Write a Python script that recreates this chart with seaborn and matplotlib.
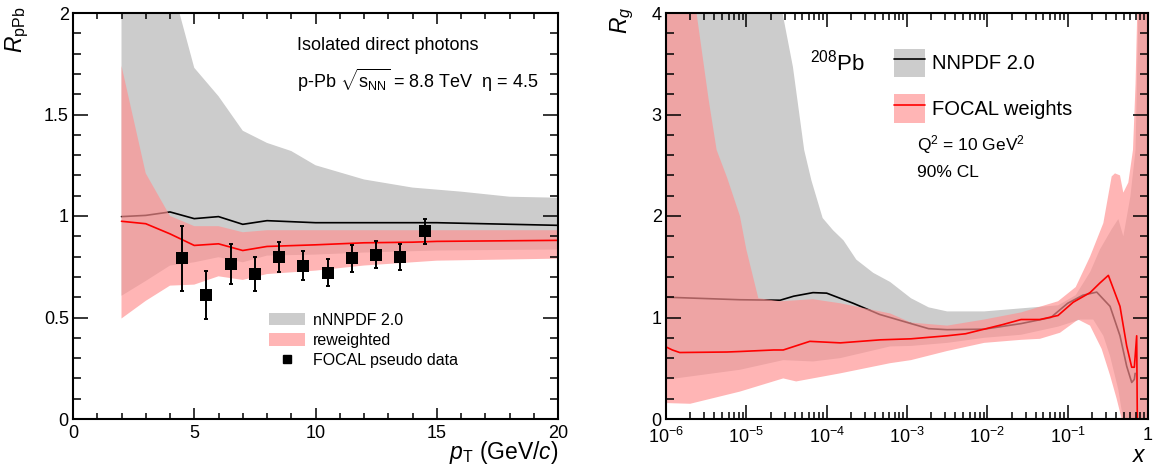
import numpy as np
import matplotlib
matplotlib.use("Agg")
import matplotlib.pyplot as plt
import seaborn as sns
from matplotlib.patches import Patch
from matplotlib.lines import Line2D
from matplotlib.ticker import (MultipleLocator, LogLocator, FixedLocator,
                               FixedFormatter, NullFormatter, FormatStrFormatter)

# ---------------- left panel data: R_pPb vs pT ----------------
pt_grey_up = [2, 3, 4, 4.39, 5, 6, 7, 8, 9, 10, 12, 14, 16, 18, 20]
r_grey_up = [4.0, 3.0, 2.3, 2.0, 1.73, 1.59, 1.42, 1.36, 1.32, 1.25, 1.18, 1.14, 1.12, 1.095, 1.09]
pt_grey_lo = [2, 3, 4, 5, 6, 7, 8, 10, 12, 15, 20]
r_grey_lo = [0.607, 0.68, 0.756, 0.772, 0.797, 0.772, 0.805, 0.81, 0.82, 0.83, 0.835]
pt_pink_up = [2, 3, 4, 5, 6, 7, 8, 20]
r_pink_up = [1.74, 1.21, 1.0, 0.95, 0.95, 0.92, 0.93, 0.93]
pt_pink_lo = [2, 3, 4, 5, 6, 7, 8, 10, 12, 15, 20]
r_pink_lo = [0.495, 0.582, 0.657, 0.662, 0.703, 0.685, 0.714, 0.731, 0.756, 0.78, 0.79]
pt_line = [2, 3, 4, 5, 6, 7, 8, 10, 12, 14, 15, 20]
r_nnpdf = [0.997, 1.003, 1.02, 0.987, 0.997, 0.959, 0.977, 0.967, 0.967, 0.967, 0.967, 0.954]
r_reweighted = [0.974, 0.962, 0.912, 0.855, 0.863, 0.83, 0.85, 0.858, 0.868, 0.871, 0.875, 0.88]
pt_data = [4.5, 5.5, 6.5, 7.5, 8.5, 9.5, 10.5, 11.5, 12.5, 13.5, 14.5]
r_data = [0.792, 0.611, 0.764, 0.715, 0.797, 0.756, 0.72, 0.792, 0.81, 0.797, 0.924]
r_err = [0.159, 0.118, 0.097, 0.083, 0.075, 0.07, 0.067, 0.066, 0.066, 0.065, 0.063]
pt_ticks = [0, 5, 10, 15, 20]

# ---------------- right panel data: R_g vs x ----------------
x_grey_up = [1.0e-6, 2.51e-5, 2.82e-5, 3.80e-5, 5.25e-5, 6.46e-5, 8.91e-5, 1.20e-4, 1.62e-4,
             2.34e-4, 3.80e-4, 6.17e-4, 1.12e-3, 1.86e-3, 3.16e-3, 9.12e-3, 2.63e-2, 7.59e-2,
             0.126, 0.191, 0.252, 0.353, 0.427, 0.493, 0.603, 0.700, 0.780, 1.0]
rg_grey_up = [5.0, 4.3, 4.0, 3.47, 2.65, 2.35, 1.98, 1.86, 1.76,
              1.57, 1.44, 1.35, 1.19, 1.10, 1.06, 1.06, 1.09, 1.12,
              1.22, 1.45, 1.67, 1.87, 1.97, 1.8, 2.19, 2.65, 4.5, 5.0]
x_grey_lo = [1.0e-6, 8.32e-6, 2.88e-5, 6.76e-5, 1.48e-4, 6.17e-4, 1.12e-3, 3.16e-3, 9.12e-3,
             2.63e-2, 7.59e-2, 0.143, 0.208, 0.278, 0.337, 0.427, 0.489, 1.0]
rg_grey_lo = [0.387, 0.485, 0.58, 0.567, 0.60, 0.715, 0.72, 0.75, 0.80,
              0.83, 0.91, 0.98, 0.98, 0.82, 0.62, 0.29, 0.0, 0.0]
x_pink_up = [1.0e-6, 2.4e-6, 3.39e-6, 4.27e-6, 5.75e-6, 8.32e-6, 1.0e-5, 1.41e-5, 2.63e-5,
             6.76e-5, 1.48e-4, 6.17e-4, 1.12e-3, 3.16e-3, 9.12e-3, 2.63e-2, 7.59e-2, 0.126,
             0.190, 0.278, 0.353, 0.388, 0.448, 0.493, 0.569, 0.650, 0.700, 0.760, 1.0]
rg_pink_up = [5.0, 4.0, 3.15, 2.65, 2.38, 2.0, 1.67, 1.19, 1.16,
              1.18, 1.14, 1.04, 0.95, 0.92, 0.98, 1.05, 1.16, 1.3,
              1.6, 1.93, 2.39, 2.42, 2.4, 2.23, 2.33, 2.65, 3.3, 4.5, 5.0]
x_pink_lo = [1.0e-6, 2.0e-6, 8.32e-6, 2.88e-5, 4.17e-5, 1.48e-4, 6.17e-4, 1.12e-3, 3.16e-3,
             9.12e-3, 2.63e-2, 4.52e-2, 8.04e-2, 0.135, 0.190, 0.265, 0.337, 0.407, 0.471, 1.0]
rg_pink_lo = [0.157, 0.15, 0.27, 0.40, 0.37, 0.45, 0.55, 0.58, 0.67,
              0.75, 0.78, 0.79, 0.85, 0.98, 0.92, 0.69, 0.43, 0.2, 0.0, 0.0]
x_nnpdf = [1.0e-6, 8.32e-6, 2.63e-5, 3.89e-5, 6.76e-5, 1.0e-4, 2.14e-4, 4.57e-4, 6.17e-4,
           1.12e-3, 1.86e-3, 3.16e-3, 9.12e-3, 2.63e-2, 6.17e-2, 0.1, 0.155, 0.230, 0.337,
           0.448, 0.543, 0.627, 0.676, 0.692]
rg_nnpdf = [1.2, 1.175, 1.17, 1.21, 1.245, 1.24, 1.14, 1.03, 1.0,
            0.94, 0.89, 0.88, 0.885, 0.94, 1.0, 1.14, 1.22, 1.25, 1.11,
            0.82, 0.52, 0.36, 0.39, 0.45]
x_focal = [1.0e-6, 1.20e-6, 1.48e-6, 5.75e-6, 8.32e-6, 2.19e-5, 2.88e-5, 6.17e-5, 1.48e-4,
           4.68e-4, 1.12e-3, 3.16e-3, 5.37e-3, 9.12e-3, 1.55e-2, 2.63e-2, 4.52e-2, 7.59e-2,
           0.117, 0.190, 0.252, 0.321, 0.448, 0.543, 0.627, 0.676, 0.723, 0.736]
rg_focal = [0.71, 0.68, 0.655, 0.66, 0.665, 0.68, 0.68, 0.765, 0.75,
            0.78, 0.79, 0.82, 0.84, 0.885, 0.93, 0.98, 0.98, 1.02,
            1.15, 1.245, 1.34, 1.415, 1.11, 0.72, 0.51, 0.51, 0.82, 0.0]
x_ticks = [1e-6, 1e-5, 1e-4, 1e-3, 1e-2, 1e-1, 1.0]
x_ticklabels = [r"$10^{-6}$", r"$10^{-5}$", r"$10^{-4}$", r"$10^{-3}$",
                r"$10^{-2}$", r"$10^{-1}$", "1"]

# ---------------- style ----------------
GREY = "#cccccc"
PINK = (1.0, 0.57, 0.57)
PINK_ALPHA = 0.67

sns.set_theme(style="ticks")
plt.rcParams["font.family"] = ["Liberation Sans", "DejaVu Sans"]
plt.rcParams["mathtext.fontset"] = "custom"
plt.rcParams["mathtext.rm"] = "Liberation Sans"
plt.rcParams["mathtext.it"] = "Liberation Sans:italic"
plt.rcParams["mathtext.bf"] = "Liberation Sans:bold"
plt.rcParams["axes.linewidth"] = 1.5
plt.rcParams["axes.edgecolor"] = "black"
plt.rcParams["text.color"] = "black"
plt.rcParams["xtick.color"] = "black"
plt.rcParams["ytick.color"] = "black"

fig = plt.figure(figsize=(11.57, 4.68), dpi=100)
ax1 = fig.add_axes([73 / 1157, 49 / 468, 485 / 1157, 406 / 468])
ax2 = fig.add_axes([666 / 1157, 49 / 468, 482 / 1157, 406 / 468])
for a in (ax1, ax2):
    a.set_axisbelow(False)


def band(ax, xu, yu, xl, yl, **kw):
    xs = list(xu) + list(xl)[::-1]
    ys = list(yu) + list(yl)[::-1]
    ax.fill(xs, ys, lw=0, **kw)


# ---------------- left panel ----------------
band(ax1, pt_grey_up, r_grey_up, pt_grey_lo, r_grey_lo, color=GREY, zorder=1.0)
sns.lineplot(x=pt_line, y=r_nnpdf, ax=ax1, color="black", linewidth=1.2,
             sort=False, estimator=None, zorder=1.2)
band(ax1, pt_pink_up, r_pink_up, pt_pink_lo, r_pink_lo, color=PINK, alpha=PINK_ALPHA, zorder=1.4)
sns.lineplot(x=pt_line, y=r_reweighted, ax=ax1, color="red", linewidth=1.2,
             sort=False, estimator=None, zorder=1.6)
ax1.errorbar(pt_data, r_data, yerr=r_err, fmt="none", ecolor="black",
             elinewidth=1.4, capsize=1.5, capthick=1.4, zorder=2.0)
sns.scatterplot(x=pt_data, y=r_data, ax=ax1, marker="s", s=78, color="black",
                edgecolor="black", linewidth=0, zorder=2.2)

ax1.set_xlim(0, 20)
ax1.set_ylim(0, 2)
ax1.xaxis.set_major_locator(FixedLocator(pt_ticks))
ax1.xaxis.set_minor_locator(MultipleLocator(1))
ax1.yaxis.set_major_locator(MultipleLocator(0.5))
ax1.yaxis.set_minor_locator(MultipleLocator(0.1))
ax1.yaxis.set_major_formatter(FormatStrFormatter("%g"))
ax1.tick_params(axis="both", which="both", direction="in", top=True, right=True,
                width=1.1, labelsize=13)
ax1.tick_params(axis="x", which="major", length=8, pad=4)
ax1.tick_params(axis="x", which="minor", length=4)
ax1.tick_params(axis="y", which="major", length=11, pad=3)
ax1.tick_params(axis="y", which="minor", length=5.5)
ax1.set_xlabel("")
ax1.set_ylabel("")

ax1.text(-0.115, 1.015, r"$R_{\mathrm{pPb}}$", transform=ax1.transAxes, rotation=90,
         ha="center", va="top", fontsize=16.5)
ax1.text(1.0, -0.082, r"$p_{\mathrm{T}}$ (GeV/$c$)", transform=ax1.transAxes,
         ha="right", va="center", fontsize=16.5)
ax1.text(0.462, 0.921, "Isolated direct photons", transform=ax1.transAxes,
         ha="left", va="center", fontsize=13)
ax1.text(0.462, 0.833, r"p-Pb $\sqrt{\mathrm{s}_{\mathrm{NN}}}$ = 8.8 TeV  η = 4.5",
         transform=ax1.transAxes, ha="left", va="center", fontsize=13)

h1 = [Patch(facecolor=GREY, edgecolor="none"),
      Patch(facecolor=PINK, alpha=PINK_ALPHA, edgecolor="none"),
      Line2D([], [], marker="s", color="black", linestyle="none", markersize=6)]
ax1.legend(h1, ["nNNPDF 2.0", "reweighted", "FOCAL pseudo data"],
           loc="upper left", bbox_to_anchor=(0.405, 0.262), frameon=False,
           fontsize=11.5, handlelength=2.2, handleheight=0.85, handletextpad=0.55,
           labelspacing=0.32, borderpad=0, borderaxespad=0)

# ---------------- right panel ----------------
ax2.set_xscale("log")
band(ax2, x_grey_up, rg_grey_up, x_grey_lo, rg_grey_lo, color=GREY, zorder=1.0)
sns.lineplot(x=x_nnpdf, y=rg_nnpdf, ax=ax2, color="black", linewidth=1.2,
             sort=False, estimator=None, zorder=1.2)
band(ax2, x_pink_up, rg_pink_up, x_pink_lo, rg_pink_lo, color=PINK, alpha=PINK_ALPHA, zorder=1.4)
sns.lineplot(x=x_focal, y=rg_focal, ax=ax2, color="red", linewidth=1.2,
             sort=False, estimator=None, zorder=1.6)

ax2.set_xlim(1e-6, 1)
ax2.set_ylim(0, 4)
ax2.xaxis.set_major_locator(FixedLocator(x_ticks))
ax2.xaxis.set_major_formatter(FixedFormatter(x_ticklabels))
ax2.xaxis.set_minor_locator(LogLocator(base=10, subs=np.arange(2, 10), numticks=20))
ax2.xaxis.set_minor_formatter(NullFormatter())
ax2.yaxis.set_major_locator(MultipleLocator(1))
ax2.yaxis.set_minor_locator(MultipleLocator(0.2))
ax2.tick_params(axis="both", which="both", direction="in", top=True, right=True,
                width=1.1, labelsize=13)
ax2.tick_params(axis="x", which="major", length=10, pad=6)
ax2.tick_params(axis="x", which="minor", length=5)
ax2.tick_params(axis="y", which="major", length=11, pad=3)
ax2.tick_params(axis="y", which="minor", length=5.5)
ax2.set_xlabel("")
ax2.set_ylabel("")

ax2.text(-0.091, 1.015, r"$R_g$", transform=ax2.transAxes, rotation=90,
         ha="center", va="top", fontsize=16.5)
ax2.text(0.998, -0.089, r"$x$", transform=ax2.transAxes,
         ha="right", va="center", fontsize=16.5)
ax2.text(0.299, 0.877, r"$^{208}$Pb", transform=ax2.transAxes,
         ha="left", va="center", fontsize=16)
ax2.text(0.52, 0.675, r"Q$^2$ = 10 GeV$^2$", transform=ax2.transAxes,
         ha="left", va="center", fontsize=12.5)
ax2.text(0.52, 0.606, "90% CL", transform=ax2.transAxes,
         ha="left", va="center", fontsize=12.5)

h2 = [(Patch(facecolor=GREY, edgecolor="none"), Line2D([], [], color="black", lw=1.2)),
      (Patch(facecolor=PINK, alpha=PINK_ALPHA, edgecolor="none"), Line2D([], [], color="red", lw=1.2))]
ax2.legend(h2, ["NNPDF 2.0", "FOCAL weights"], loc="upper left",
           bbox_to_anchor=(0.473, 0.912), frameon=False, fontsize=14.5,
           handlelength=1.55, handleheight=1.8, handletextpad=0.35,
           labelspacing=0.85, borderpad=0, borderaxespad=0)

fig.savefig("out.png", dpi=100)
